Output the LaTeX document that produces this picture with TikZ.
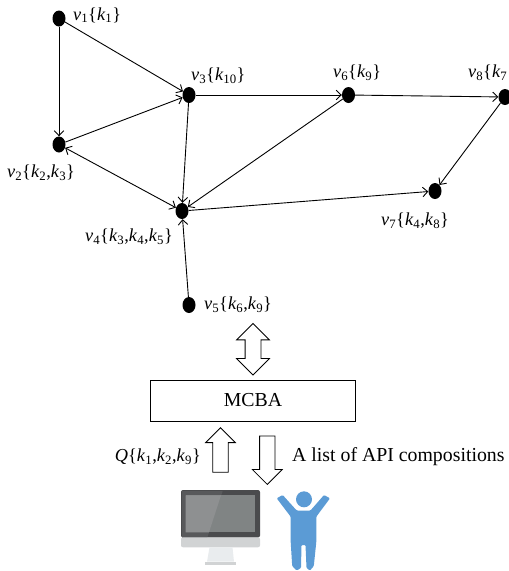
\documentclass[tikz,border=0pt]{standalone}
\usepackage{fontspec}
\setmainfont{Liberation Serif}
\usetikzlibrary{arrows.meta,shapes.geometric,shapes.arrows}
\definecolor{personblue}{HTML}{5B9BD5}
\definecolor{bezeldark}{HTML}{4A4B4D}
\definecolor{bezellight}{HTML}{58595B}
\definecolor{screendark}{HTML}{808484}
\definecolor{screenlight}{HTML}{8E9091}
\definecolor{chingray}{HTML}{D1D3D4}
\definecolor{standgray}{HTML}{E9ECEE}
\newcommand{\isub}[2]{\textit{#1}\textsubscript{#2}}
\begin{document}
\begin{tikzpicture}[x=1pt,y=-1pt,
      >={Straight Barb[length=5pt,width=9.5pt]},
      vertex/.style={ellipse,fill=black,inner sep=0pt,minimum width=13pt,minimum height=16pt},
      edge/.style={->,line width=.9pt},
      vlabel/.style={font=\fontsize{18.3}{20}\selectfont,inner sep=0pt,anchor=west},
      upright/.style={font=\fontsize{19.8}{22}\selectfont,inner sep=0pt},
      fatup/.style={single arrow,draw,line width=.8pt,inner ysep=0pt,inner xsep=7.3pt,minimum width=29pt,
        single arrow head extend=7.2pt,minimum height=44.5pt,shape border rotate=90},
      fatdown/.style={fatup,minimum height=48.5pt,shape border rotate=270},
      fatboth/.style={double arrow,draw,line width=.8pt,inner ysep=0pt,inner xsep=7.5pt,minimum width=32pt,
        double arrow head extend=8.5pt,minimum height=51.5pt,shape border rotate=90}]
      \useasboundingbox (0,0) rectangle (509,571);
      \clip (0,0) rectangle (509,571);
      % Vertices
      \node[vertex] (v1) at (59,18.5) {};
      \node[vertex] (v2) at (59,144.5) {};
      \node[vertex] (v3) at (189,95) {};
      \node[vertex] (v4) at (182,211) {};
      \node[vertex] (v5) at (189,305) {};
      \node[vertex] (v6) at (348.5,95) {};
      \node[vertex] (v7) at (435,191) {};
      \node[vertex] (v8) at (505,97) {};
      % Vertex labels
      \node[vlabel] (v1text) at (73,15) {\isub{v}{1}\{\isub{k}{1}\}};
      \node[vlabel] (v2text) at (7,173) {\isub{v}{2}\{\isub{k}{2},\isub{k}{3}\}};
      \node[vlabel] (v3text) at (191,76) {\isub{v}{3}\{\isub{k}{10}\}};
      \node[vlabel] (v4text) at (85,237) {\isub{v}{4}\{\isub{k}{3},\isub{k}{4},\isub{k}{5}\}};
      \node[vlabel] (v5text) at (204,305) {\isub{v}{5}\{\isub{k}{6},\isub{k}{9}\}};
      \node[vlabel] (v6text) at (333,73) {\isub{v}{6}\{\isub{k}{9}\}};
      \node[vlabel] (v7text) at (381,220.5) {\isub{v}{7}\{\isub{k}{4},\isub{k}{8}\}};
      \node[vlabel] (v8text) at (468,73) {\isub{v}{8}\{\isub{k}{7}};
      % Edges
      \draw[edge] (v1) -- (v2);
      \draw[edge] (v1) -- (v3);
      \draw[edge] (v2) -- (v3);
      \draw[edge,<->] (v2) -- (v4);
      \draw[edge] (v3) -- (v4);
      \draw[edge] (v3) -- (v6);
      \draw[edge] (v6) -- (v4);
      \draw[edge] (v4) -- (v7);
      \draw[edge] (v5) -- (v4);
      \draw[edge] (v6) -- (v8);
      \draw[edge] (v8) -- (v7);
      % MCBA and its arrows
      \node[draw,line width=.8pt,minimum width=205.5pt,minimum height=41pt,inner sep=0pt,upright] (mcba) at (253,400.5) {MCBA};
      \node[fatboth] (link) at (253,349.2) {};
      \node[fatup] (query) at (220.5,453.8) {};
      \node[fatdown] (result) at (267.3,456.3) {};
      \node[upright,anchor=east,font=\fontsize{18.3}{20}\selectfont] (qtext) at (201,457) {\textit{Q}\{\isub{k}{1},\isub{k}{2},\isub{k}{9}\}};
      \node[upright,anchor=west] (rtext) at (292,457) {A list of API compositions};
      % Monitor
      \fill[bezeldark,rounded corners=2pt] (181,537.5) -- (181,490) -- (260,490) -- (260,537.5) -- cycle;
      \fill[bezellight] (182,491) -- (222.7,491) -- (207.3,537.5) -- (182,537.5) -- cycle;
      \fill[screendark] (185.7,495.3) rectangle (255,532.3);
      \fill[screenlight] (185.7,495.3) -- (221,495.3) -- (209,532.3) -- (185.7,532.3) -- cycle;
      \fill[chingray,rounded corners=2pt] (181,537.3) -- (181,547.3) -- (260,547.3) -- (260,537.3) -- cycle;
      \fill[standgray] (209.5,547.3) -- (232.5,547.3) -- (234,561.7) -- (207,561.7) -- cycle;
      \fill[chingray] (205,561.7) rectangle (235.7,565);
      % Person
      \fill[personblue] (304,499.3) circle (8);
      \fill[personblue,rounded corners=1pt] (282.7,495) -- (296.7,510.5) -- (310.5,510.5) -- (324,495)
        -- (330,498.3) -- (316.3,516.7) -- (316.3,542) -- (313.8,566) -- (310,570.5) -- (306.5,568) -- (305.5,545)
        -- (301.5,545) -- (301,568) -- (296.7,570.5) -- (292.2,566) -- (290.7,542) -- (290.7,516.7) -- (276.7,498.3) -- cycle;
    \end{tikzpicture}
\end{document}
